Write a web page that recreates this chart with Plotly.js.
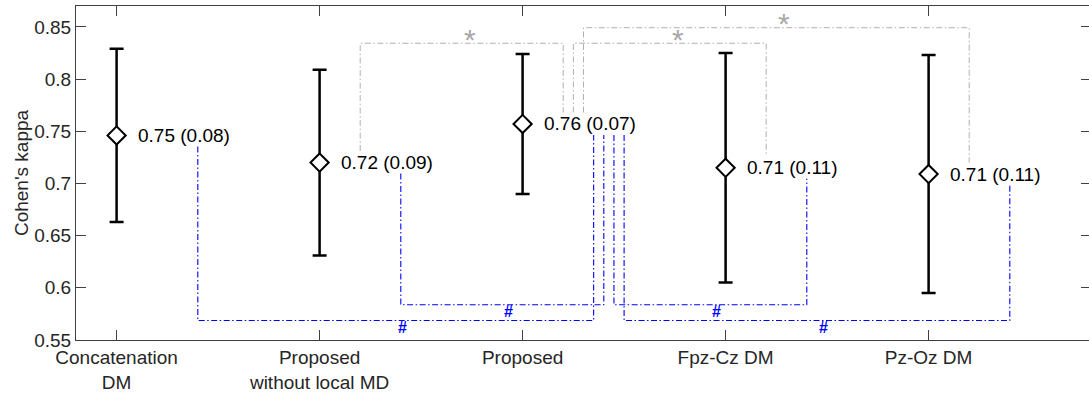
<!DOCTYPE html>
<html><head><meta charset="utf-8">
<script src="https://cdn.plot.ly/plotly-3.0.1.min.js"></script>
<style>html,body{margin:0;padding:0;overflow:hidden;background:#fff}</style>
</head><body><div id="chart"></div>
<script>
// ---- data ----
const categories = ['Concatenation<br>DM', 'Proposed<br>without local MD', 'Proposed', 'Fpz-Cz DM', 'Pz-Oz DM'];
const catPos = [1, 2, 3, 4, 5];
const meanKappa = [0.746, 0.720, 0.757, 0.715, 0.709];
const sdKappa = [0.083, 0.089, 0.067, 0.110, 0.114];
const yTickVals = [0.55, 0.6, 0.65, 0.7, 0.75, 0.8, 0.85];
const yTickText = ['0.55', '0.6', '0.65', '0.7', '0.75', '0.8', '0.85'];
// significant comparisons (1-based category indices)
const starPairs = [[2, 3], [3, 4], [3, 5]];          // grey '*'
const hashPairs = [[1, 3], [2, 3], [3, 4], [3, 5]];  // blue '#'

// ---- layout constants for the brackets ----
const hub = 3;                         // the "Proposed" column shared by all comparisons
const starLevel = [0.8343, 0.8343, 0.8492];
const hashLevel = [0.5687, 0.5838, 0.5838, 0.5687];
const FONT = 'Liberation Sans, Arial, Helvetica, sans-serif';
const GREY = '#b0b0b0', BLUE = '#0000ff';
const DASH = '6px,2.5px,1.5px,2.5px';

const traces = [];
const annotations = [];

function bracket(pair, k, level, baseOff, hubOff, hubStep, yOff, color, lw, sym, symFont, symShift) {
  const xs = pair.map(i => i === hub ? hub + hubOff + hubStep * k : i + baseOff);
  const ys = pair.map(i => meanKappa[i - 1] + yOff);
  traces.push({
    x: [xs[0], xs[0], xs[1], xs[1]],
    y: [ys[0], level, level, ys[1]],
    mode: 'lines', type: 'scatter', hoverinfo: 'skip', showlegend: false,
    line: {color: color, width: lw, dash: DASH}
  });
  annotations.push({
    x: (xs[0] + xs[1]) / 2, y: level, xref: 'x', yref: 'y',
    text: sym, showarrow: false, xanchor: 'left', yanchor: 'middle',
    yshift: symShift, font: symFont
  });
}
starPairs.forEach((p, k) => bracket(p, k, starLevel[k], 0.2, 0.2, 0.05, 0.011, GREY, 1, '*',
  {family: FONT, size: 30, color: '#a8a8a8'}, 4));
hashPairs.forEach((p, k) => bracket(p, k, hashLevel[k], 0.4, 0.35, 0.05, -0.0105, BLUE, 1.1, '<b>#</b>',
  {family: FONT, size: 16, color: BLUE}, -7));

// means with SD error bars
traces.push({
  x: catPos, y: meanKappa, type: 'scatter', mode: 'markers', showlegend: false,
  marker: {symbol: 'diamond', size: 14, color: '#ffffff', line: {color: '#000000', width: 2}},
  error_y: {type: 'data', array: sdKappa, visible: true, color: '#000000', thickness: 2.5, width: 7}
});

// value labels "mean (sd)"
catPos.forEach((c, i) => {
  annotations.push({
    x: c, y: meanKappa[i], xref: 'x', yref: 'y', showarrow: false,
    text: meanKappa[i].toFixed(2) + ' (' + sdKappa[i].toFixed(2) + ')',
    xanchor: 'left', yanchor: 'middle', xshift: 19,
    font: {family: FONT, size: 19, color: '#000000'}
  });
});

const axisCol = '#404040';
const layout = {
  width: 1091, height: 396,
  margin: {l: 76, r: 0, t: 6, b: 56},
  paper_bgcolor: '#ffffff', plot_bgcolor: '#ffffff',
  font: {family: FONT, size: 19, color: '#262626'},
  xaxis: {
    range: [0.8, 5.8], tickmode: 'array', tickvals: catPos, ticktext: categories,
    ticks: 'inside', ticklen: 10, tickwidth: 1, tickcolor: axisCol,
    showline: true, linecolor: axisCol, linewidth: 1, mirror: 'ticks',
    showgrid: false, zeroline: false,
    tickfont: {family: FONT, size: 19, color: '#262626'}
  },
  yaxis: {
    range: [0.55, 0.87], tickmode: 'array', tickvals: yTickVals, ticktext: yTickText,
    ticks: 'inside', ticklen: 10, tickwidth: 1, tickcolor: axisCol,
    showline: true, linecolor: axisCol, linewidth: 1, mirror: 'ticks',
    showgrid: false, zeroline: false,
    tickfont: {family: FONT, size: 19, color: '#262626'},
    title: {text: "Cohen's kappa", font: {family: FONT, size: 19, color: '#262626'}}
  },
  annotations: annotations,
  showlegend: false
};
Plotly.newPlot('chart', traces, layout, {displayModeBar: false, staticPlot: true});
</script>
</body></html>
